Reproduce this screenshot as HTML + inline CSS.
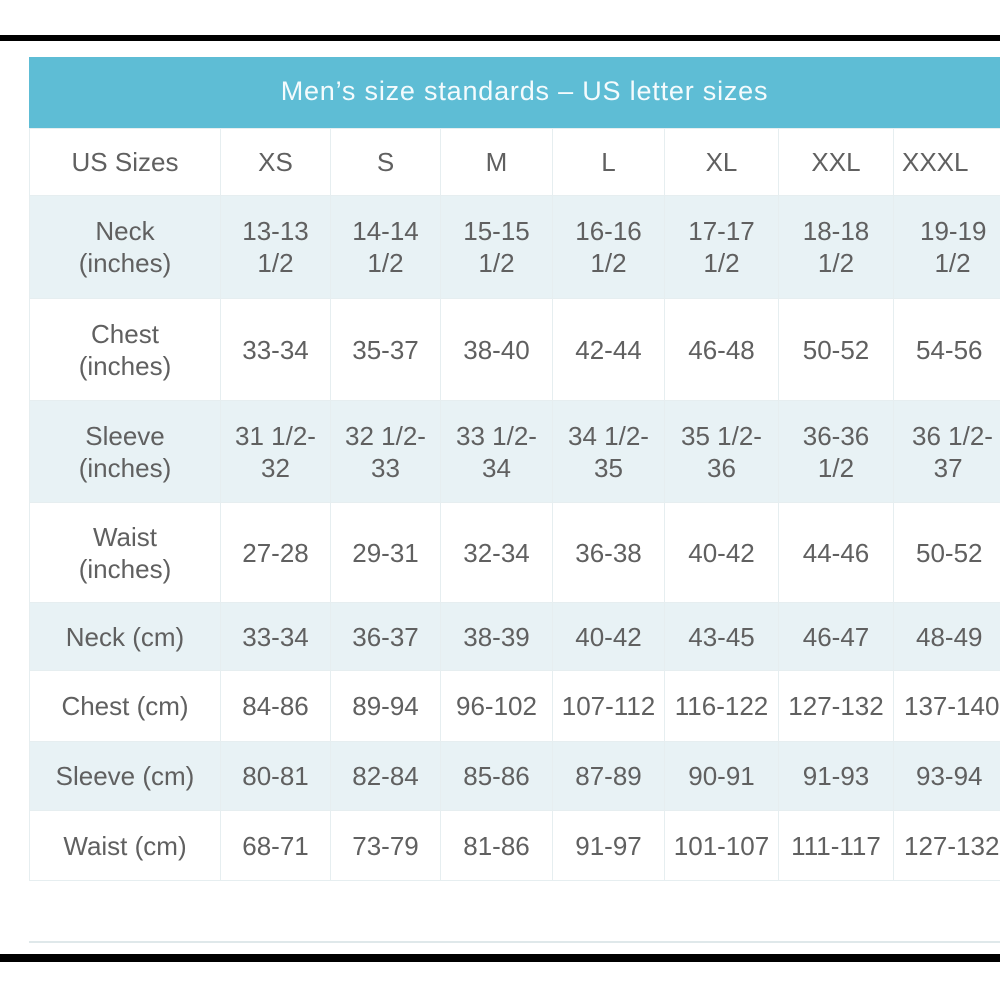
<!DOCTYPE html>
<html><head><style>
body{margin:0;width:1000px;height:1000px;background:#fff;position:relative;overflow:hidden;font-family:"Liberation Sans",sans-serif;}
.bar{position:absolute;left:0;width:1000px;background:#000;}
.hdr{position:absolute;left:29px;top:57px;width:991px;height:71px;background:#5ebdd5;color:#f4fbfd;font-size:27px;letter-spacing:0.8px;line-height:68px;text-align:center;}
table{position:absolute;left:29px;top:128px;border-collapse:collapse;table-layout:fixed;width:1008px;}
td{border:1px solid #e6eef0;text-align:center;color:#606060;font-size:26px;line-height:32px;padding:0;white-space:nowrap;overflow:hidden;}
tr.b td{background:#e8f2f5;}
</style></head><body>
<div class="bar" style="top:35px;height:6px"></div>
<div class="hdr">Men’s size standards – US letter sizes</div>
<table>
<colgroup><col style="width:191px"><col style="width:110px"><col style="width:110px"><col style="width:112px"><col style="width:112px"><col style="width:114px"><col style="width:115px"><col style="width:144px"></colgroup>
<tr style="height:67px"><td>US Sizes</td><td>XS</td><td>S</td><td>M</td><td>L</td><td>XL</td><td>XXL</td><td style="text-align:left;padding-left:8px">XXXL</td></tr>
<tr class="b" style="height:103px"><td>Neck<br>(inches)</td><td>13-13<br>1/2</td><td>14-14<br>1/2</td><td>15-15<br>1/2</td><td>16-16<br>1/2</td><td>17-17<br>1/2</td><td>18-18<br>1/2</td><td style="text-align:left;padding-left:26px">19-19<br>&nbsp;&nbsp;1/2</td></tr>
<tr style="height:102px"><td>Chest<br>(inches)</td><td>33-34</td><td>35-37</td><td>38-40</td><td>42-44</td><td>46-48</td><td>50-52</td><td style="text-align:left;padding-left:22px">54-56</td></tr>
<tr class="b" style="height:102px"><td>Sleeve<br>(inches)</td><td>31 1/2-<br>32</td><td>32 1/2-<br>33</td><td>33 1/2-<br>34</td><td>34 1/2-<br>35</td><td>35 1/2-<br>36</td><td>36-36<br>1/2</td><td style="text-align:left;padding-left:18px">36 1/2-<br>&nbsp;&nbsp;&nbsp;37</td></tr>
<tr style="height:100px"><td>Waist<br>(inches)</td><td>27-28</td><td>29-31</td><td>32-34</td><td>36-38</td><td>40-42</td><td>44-46</td><td style="text-align:left;padding-left:22px">50-52</td></tr>
<tr class="b" style="height:68px"><td>Neck (cm)</td><td>33-34</td><td>36-37</td><td>38-39</td><td>40-42</td><td>43-45</td><td>46-47</td><td style="text-align:left;padding-left:22px">48-49</td></tr>
<tr style="height:71px"><td>Chest (cm)</td><td>84-86</td><td>89-94</td><td>96-102</td><td>107-112</td><td>116-122</td><td>127-132</td><td style="text-align:left;padding-left:10px">137-140</td></tr>
<tr class="b" style="height:69px"><td>Sleeve (cm)</td><td>80-81</td><td>82-84</td><td>85-86</td><td>87-89</td><td>90-91</td><td>91-93</td><td style="text-align:left;padding-left:22px">93-94</td></tr>
<tr style="height:70px"><td>Waist (cm)</td><td>68-71</td><td>73-79</td><td>81-86</td><td>91-97</td><td>101-107</td><td>111-117</td><td style="text-align:left;padding-left:10px">127-132</td></tr>
</table>
<div style="position:absolute;left:29px;top:941px;width:971px;height:2px;background:#dfe8ea"></div>
<div class="bar" style="top:954px;height:8px"></div>
</body></html>
